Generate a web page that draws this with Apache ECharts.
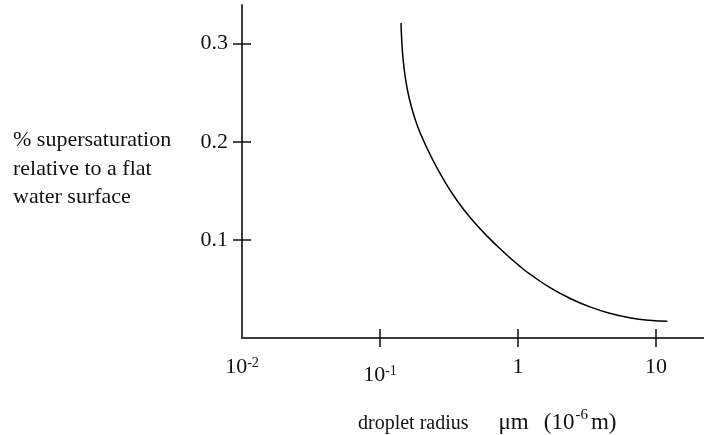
<!DOCTYPE html>
<html>
<head>
<meta charset="utf-8">
<script src="https://cdn.jsdelivr.net/npm/echarts@6/dist/echarts.min.js"></script>
<style>
html, body { margin: 0; padding: 0; background: #fff; }
#chart { width: 704px; height: 435px; }
</style>
</head>
<body>
<div id="chart"></div>
<script>
// droplet radius in micrometres
const radius = [0.1421, 0.1435, 0.1468, 0.1528, 0.1627, 0.1784, 0.1985, 0.2348, 0.29, 0.3671, 0.467,
  0.6029, 0.7822, 1.04, 1.237, 1.72, 2.391, 3.325, 4.624, 6.429, 8.939, 12.09];
// % supersaturation at those radii
const supersat = [0.3211, 0.3058, 0.2854, 0.265, 0.2446, 0.2243, 0.2069, 0.1848, 0.1611, 0.1389, 0.1203,
  0.1033, 0.088, 0.0727, 0.0645, 0.0511, 0.0403, 0.0317, 0.0252, 0.0207, 0.018, 0.0171];
const xTicks = [0.1, 1, 10];
const xLabels = [0.01, 0.1, 1, 10];
const yTicks = [0.1, 0.2, 0.3];

const font = 'Liberation Serif';
const chart = echarts.init(document.getElementById('chart'));

const xLabelText = v => {
  if (Math.abs(v - 0.01) < 1e-9) return '{n|10}{s|-2}';
  if (Math.abs(v - 0.1) < 1e-9) return '{g| }\n{n|10}{s|-1}';
  if (Math.abs(v - 1) < 1e-9) return '{n|1}';
  if (Math.abs(v - 10) < 1e-9) return '{n|10}';
  return '';
};

const richLabel = {
  n: { fontFamily: font, fontSize: 22, color: '#111', lineHeight: 22 },
  s: { fontFamily: font, fontSize: 14, color: '#111', verticalAlign: 'top', lineHeight: 22 },
  g: { fontSize: 6, lineHeight: 8 }
};

const gridBox = { left: 242, top: 5, right: 0, bottom: 97, outerBoundsMode: 'none' };

chart.setOption({
  animation: false,
  backgroundColor: '#fff',
  title: [
    {
      text: '% supersaturation\nrelative to a flat\nwater surface',
      left: 13,
      top: 126,
      padding: 0,
      textStyle: { fontFamily: font, fontSize: 22, fontWeight: 'normal', color: '#111', lineHeight: 28.5 }
    },
    {
      text: '{a|droplet radius}      {b|μm}   {b|(10}{sup|-6}{b|m)}',
      left: 358,
      top: 408,
      padding: 0,
      textStyle: {
        fontFamily: font, fontSize: 20, fontWeight: 'normal', color: '#111', lineHeight: 26,
        rich: {
          a: { fontFamily: font, fontSize: 20, color: '#111', lineHeight: 26, verticalAlign: 'bottom' },
          b: { fontFamily: font, fontSize: 23, color: '#111', lineHeight: 26, verticalAlign: 'bottom' },
          sup: { fontFamily: font, fontSize: 15, color: '#111', verticalAlign: 'top', lineHeight: 26, padding: [0, 3, 0, 1] }
        }
      }
    }
  ],
  grid: [Object.assign({}, gridBox), Object.assign({}, gridBox)],
  xAxis: [
    {
      type: 'log', logBase: 10, gridIndex: 0, min: 0.01, max: 22.3,
      axisLine: { show: true, lineStyle: { color: '#3c3c3c', width: 2 } },
      axisTick: { show: true, length: 9, customValues: xTicks, lineStyle: { color: '#111', width: 1.5 } },
      axisLabel: { show: true, margin: 18, customValues: xLabels, formatter: xLabelText, rich: richLabel },
      splitLine: { show: false }, minorTick: { show: false }
    },
    {
      type: 'log', logBase: 10, gridIndex: 1, min: 0.01, max: 22.3,
      axisLine: { show: false },
      axisTick: { show: true, inside: true, length: 9, customValues: xTicks, lineStyle: { color: '#111', width: 1.5 } },
      axisLabel: { show: false },
      splitLine: { show: false }
    }
  ],
  yAxis: [
    {
      type: 'value', gridIndex: 0, min: 0, max: 0.3394,
      axisLine: { show: true, lineStyle: { color: '#3c3c3c', width: 2 } },
      axisTick: { show: true, length: 9, customValues: yTicks, lineStyle: { color: '#111', width: 1.5 } },
      axisLabel: {
        show: true, margin: 14, customValues: yTicks,
        fontFamily: font, fontSize: 22, color: '#111',
        formatter: v => v.toFixed(1)
      },
      splitLine: { show: false }
    },
    {
      type: 'value', gridIndex: 1, min: 0, max: 0.3394,
      axisLine: { show: false },
      axisTick: { show: true, inside: true, length: 9, customValues: yTicks, lineStyle: { color: '#111', width: 1.5 } },
      axisLabel: { show: false },
      splitLine: { show: false }
    }
  ],
  series: [
    {
      type: 'line',
      xAxisIndex: 0,
      yAxisIndex: 0,
      smooth: 0.5,
      showSymbol: false,
      lineStyle: { color: '#000', width: 1.5 },
      data: radius.map((r, i) => [r, supersat[i]])
    }
  ]
});
</script>
</body>
</html>
